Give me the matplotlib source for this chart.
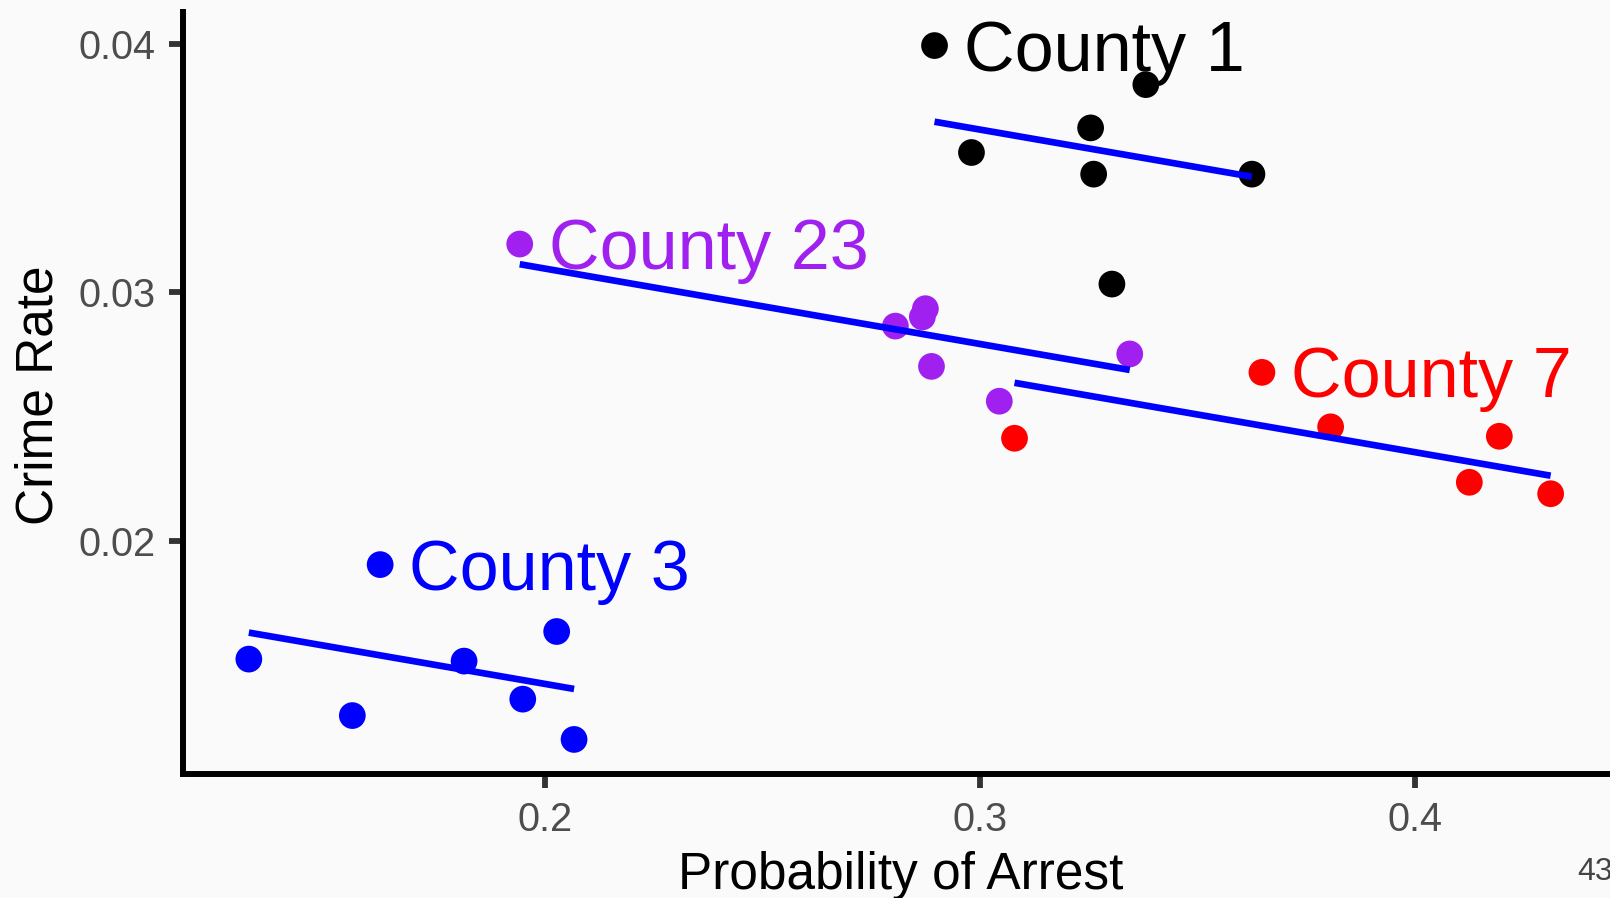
import numpy as np
import matplotlib
matplotlib.use("Agg")
import matplotlib.pyplot as plt

plt.rcParams['font.family'] = ['Liberation Sans', 'DejaVu Sans']

# data
county_names = ["County 1", "County 23", "County 7", "County 3"]
county_colors = ["#000000", "#A020F0", "#FF0000", "#0000FF"]

arrest_c1 = [0.2895, 0.3381, 0.3254, 0.2980, 0.3261, 0.3625, 0.3303]
crime_c1 = [0.03992, 0.03835, 0.03661, 0.03562, 0.03475, 0.03475, 0.03033]

arrest_c23 = [0.1941, 0.2805, 0.2874, 0.2867, 0.2888, 0.3044, 0.3344]
crime_c23 = [0.03194, 0.02864, 0.02934, 0.02901, 0.02702, 0.02562, 0.02752]

arrest_c7 = [0.3648, 0.3079, 0.3806, 0.4194, 0.4125, 0.4312]
crime_c7 = [0.02678, 0.02413, 0.02459, 0.02421, 0.02236, 0.02190]

arrest_c3 = [0.1620, 0.1318, 0.1556, 0.1813, 0.1948, 0.2026, 0.2066]
crime_c3 = [0.01905, 0.01525, 0.01298, 0.01517, 0.01364, 0.01636, 0.01202]

# fixed effects fit: common slope, one intercept per county
fe_slope = -0.0303
fe_intercepts = [0.04563, 0.03701, 0.03569, 0.02031]

arrests = [arrest_c1, arrest_c23, arrest_c7, arrest_c3]
crimes = [crime_c1, crime_c23, crime_c7, crime_c3]

bg = '#FAFAFA'
fig = plt.figure(figsize=(16.1, 8.98), dpi=100)
fig.patch.set_facecolor(bg)
ax = fig.add_axes([0.1137, 0.1381, 0.8918, 0.8489])
ax.set_facecolor(bg)

for i in range(len(county_names)):
    x = np.array(arrests[i])
    y = np.array(crimes[i])
    ax.scatter(x, y, s=370, color=county_colors[i], edgecolors='none', zorder=3)
    # label goes next to the first point of each county
    ax.annotate(county_names[i], (x[0], y[0]), xytext=(21, -18), textcoords='offset points',
                ha='left', va='baseline', fontsize=50.5, color=county_colors[i], zorder=5)
    xs = np.array([x.min(), x.max()])
    ax.plot(xs, fe_intercepts[i] + fe_slope * xs, color='#0000FF', lw=4.8,
            solid_capstyle='butt', zorder=4)

ax.set_xlim(0.11667, 0.44689)
ax.set_ylim(0.010631, 0.041283)
ax.set_xticks([0.2, 0.3, 0.4])
ax.set_xticklabels(["0.2", "0.3", "0.4"])
ax.set_yticks([0.02, 0.03, 0.04])
ax.set_yticklabels(["0.02", "0.03", "0.04"])

for side in ['top', 'right']:
    ax.spines[side].set_visible(False)
for side in ['left', 'bottom']:
    ax.spines[side].set_linewidth(4.3)
    ax.spines[side].set_color('black')
ax.tick_params(axis='both', length=9.9, width=4.2, color='#333333',
               labelsize=28.6, labelcolor='#4D4D4D', pad=9.8)

ax.set_xlabel("Probability of Arrest", fontsize=37, color='black', va='baseline')
ax.xaxis.set_label_coords(0.5, -0.1505)
ax.set_ylabel("Crime Rate", fontsize=37, color='black', va='baseline')
ax.yaxis.set_label_coords(-0.0908, 0.4968)

fig.text(0.9795, 0.020, "43", fontsize=23, color='#444444', ha='left', va='baseline',
         family=['Liberation Sans Narrow', 'Liberation Sans'])

fig.savefig("out.png", dpi=100, facecolor=bg)
